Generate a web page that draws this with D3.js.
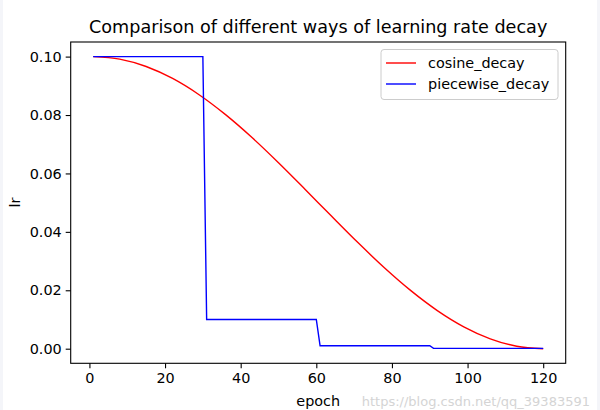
<!DOCTYPE html>
<html>
<head>
<meta charset="utf-8">
<script src="https://cdn.jsdelivr.net/npm/d3@7/dist/d3.min.js"></script>
<style>
  html, body { margin: 0; padding: 0; background: #ffffff; }
  svg { display: block; }
  text { font-family: "DejaVu Sans", sans-serif; }
</style>
</head>
<body>
<svg id="chart" width="600" height="410"></svg>
<script>
// ---- data ----
const cosineEpochs = [1, 8, 15, 22, 29, 36, 43, 50, 57, 64, 71, 78, 85, 92, 99, 106, 113, 120];
const cosineValues = [0.1, 0.09915, 0.09662, 0.09251, 0.08695, 0.08013, 0.07229, 0.06368, 0.05461,
                      0.04539, 0.03632, 0.02771, 0.01987, 0.01305, 0.00749, 0.00338, 0.00085, 0.0];
const piecewiseEpochs = [1, 30, 31, 60, 61, 90, 91, 120];
const piecewiseValues = [0.1, 0.1, 0.01, 0.01, 0.001, 0.001, 0.0001, 0.0001];
const xTicks = [0, 20, 40, 60, 80, 100, 120];
const yTicks = [0.00, 0.02, 0.04, 0.06, 0.08, 0.10];
const seriesNames = ["cosine_decay", "piecewise_decay"];
const seriesColors = ["#ff0000", "#0000ff"];
const titleText = "Comparison of different ways of learning rate decay";
const xLabel = "epoch";
const yLabel = "lr";
const watermark = "https://blog.csdn.net/qq_39383591";

// ---- layout ----
const W = 600, H = 410;
const L = 70.7, R = 565.7, T = 42, B = 363.3;
const FS = "14.4px";
const svg = d3.select("#chart");

svg.append("rect").attr("x", 0).attr("y", 0).attr("width", W).attr("height", H).attr("fill", "#f4f5f9");
svg.append("rect").attr("x", 3).attr("y", 0).attr("width", W - 6).attr("height", H).attr("fill", "#ffffff");

const xs = d3.scaleLinear().domain([1 - 5.95, 120 + 5.95]).range([L, R]);
const ys = d3.scaleLinear().domain([-0.005, 0.105]).range([B, T]);

const cosine = cosineEpochs.map((e, i) => [e, cosineValues[i]]);
const piecewise = piecewiseEpochs.map((e, i) => [e, piecewiseValues[i]]);

const gPlot = svg.append("g");
gPlot.append("path").datum(cosine)
  .attr("d", d3.line().x(d => xs(d[0])).y(d => ys(d[1])).curve(d3.curveMonotoneX))
  .attr("fill", "none").attr("stroke", seriesColors[0]).attr("stroke-width", 1.4);
gPlot.append("path").datum(piecewise)
  .attr("d", d3.line().x(d => xs(d[0])).y(d => ys(d[1])))
  .attr("fill", "none").attr("stroke", seriesColors[1]).attr("stroke-width", 1.4);

// axes
const xAxis = svg.append("g").attr("transform", `translate(0,${B})`)
  .call(d3.axisBottom(xs).tickValues(xTicks).tickSize(5).tickPadding(4).tickFormat(d3.format("d")));
const yAxis = svg.append("g").attr("transform", `translate(${L},0)`)
  .call(d3.axisLeft(ys).tickValues(yTicks).tickSize(5).tickPadding(4).tickFormat(d3.format(".2f")));
[xAxis, yAxis].forEach(a => {
  a.select(".domain").remove();
  a.selectAll("line").attr("stroke", "#000").attr("stroke-width", 1.1);
  a.selectAll("text").attr("font-size", FS).attr("fill", "#000")
    .attr("font-family", "DejaVu Sans, sans-serif");
});

// frame
svg.append("rect").attr("x", L).attr("y", T).attr("width", R - L).attr("height", B - T)
  .attr("fill", "none").attr("stroke", "#000").attr("stroke-width", 1.1);

// title & labels
svg.append("text").attr("x", (L + R) / 2).attr("y", 33).attr("text-anchor", "middle")
  .attr("font-size", "17.6px").attr("fill", "#000").text(titleText);
svg.append("text").attr("x", (L + R) / 2).attr("y", 405.5).attr("text-anchor", "middle")
  .attr("font-size", FS).attr("fill", "#000").text(xLabel);
svg.append("text").attr("transform", `translate(19.5,${(T + B) / 2}) rotate(-90)`)
  .attr("text-anchor", "middle").attr("font-size", FS).attr("fill", "#000").text(yLabel);

// legend
const lg = svg.append("g");
lg.append("rect").attr("x", 381).attr("y", 49.5).attr("width", 177).attr("height", 50).attr("rx", 3)
  .attr("fill", "#fff").attr("fill-opacity", 0.8).attr("stroke", "#cccccc").attr("stroke-width", 1);
seriesNames.forEach((n, i) => {
  const y = 63 + i * 21;
  lg.append("line").attr("x1", 386).attr("x2", 416).attr("y1", y).attr("y2", y)
    .attr("stroke", seriesColors[i]).attr("stroke-width", 1.4);
  lg.append("text").attr("x", 428).attr("y", y + 5).attr("font-size", FS).attr("fill", "#000").text(n);
});

// watermark
svg.append("text").attr("x", 590).attr("y", 406).attr("text-anchor", "end")
  .attr("font-size", "13px").attr("fill", "#d4d4d4").attr("font-family", "Arial, Liberation Sans, sans-serif")
  .text(watermark);
</script>
</body>
</html>
